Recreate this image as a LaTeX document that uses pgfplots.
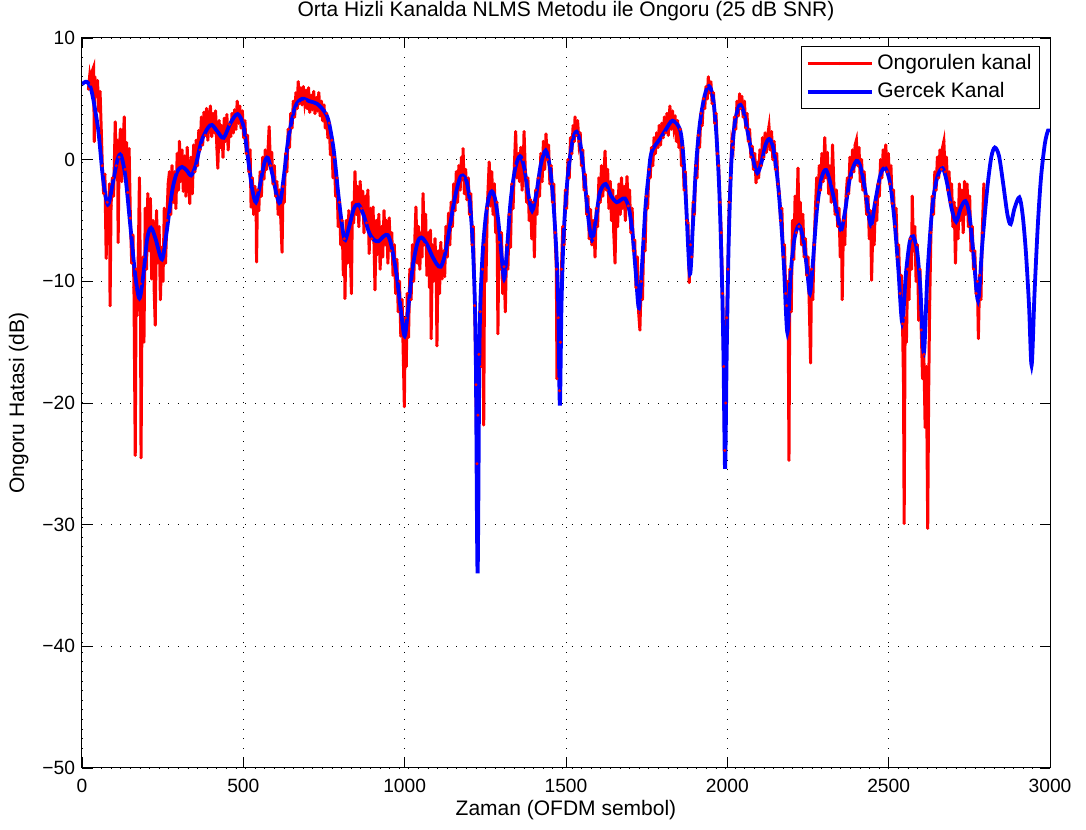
\documentclass[border=0pt]{standalone}
\usepackage{fontspec}
\setmainfont{Liberation Sans}
\usepackage{pgfplots}
\pgfplotsset{compat=1.18}

\newcommand{\figfont}{\fontsize{10.5}{12.5}\selectfont}
\newcommand{\tickfont}{\fontsize{9.6}{11}\selectfont}

\begin{document}
\begin{tikzpicture}
\begin{axis}[
  scale only axis,
  width=484pt, height=365pt,
  xmin=0, xmax=3000, ymin=-50, ymax=10,
  xtick={0,500,...,3000},
  ytick={-50,-40,...,10},
  yticklabels={−50,−40,−30,−20,−10,0,10},
  /pgf/number format/assume math mode=true,
  /pgf/number format/1000 sep={},
  tick align=inside,
  major tick length=5pt,
  tick style={black, line width=0.4pt},
  axis line style={black, line width=0.5pt},
  grid=major,
  grid style={black, line width=0.4pt, dash pattern=on 0.5pt off 4.3pt},
  ticklabel style={font=\tickfont},
  xticklabel style={yshift=-2pt},
  title={Orta Hizli Kanalda NLMS Metodu ile Ongoru (25 dB SNR)},
  title style={at={(axis description cs:0.5,1.0069)}, anchor=south, inner sep=0pt, font=\figfont},
  xlabel={Zaman (OFDM sembol)},
  xlabel style={at={(axis description cs:0.5,-0.0438)}, anchor=north, inner sep=0pt, font=\figfont},
  ylabel={Ongoru Hatasi (dB)},
  ylabel style={at={(axis description cs:-0.0548,0.5)}, anchor=south, inner sep=0pt, font=\figfont},
  legend style={at={(1,1)}, anchor=north east, xshift=-5pt, yshift=-4pt,
    draw=black, line width=0.5pt, font=\figfont, inner sep=2pt, row sep=1pt},
  legend cell align=left,
  legend image code/.code={\draw[mark repeat=2,mark phase=2,#1] plot coordinates {(0pt,0pt) (16pt,0pt) (32pt,0pt)};},
]

% estimated channel (NLMS output)
\addplot[red, line width=1.5pt, mark=*, mark size=0.6pt, mark options={solid, fill=red, draw=red, line width=0.3pt}] coordinates {
(20,5.8)(24,6.9)(28,6.2)(32,7.3)(36,7.6)(38,1.5)(40,6.8)(44,5.2)(48,6.5)(52,4.0)(56,5.6)(60,2.2)
(63,-0.5)(67,-2.8)(71,-1.2)(75,-8.1)(78,-3.5)(82,-5.2)(85,-2.0)(87,-12.0)(90,-3.8)(94,-1.5)
(98,-3.0)(103,3.1)(106,-0.5)(110,1.6)(112,-6.8)(115,0.2)(119,2.5)(123,-1.8)(127,1.2)(131,3.5)(134,-0.8)(138,1.4)(142,-2.7)(146,0.9)(150,-4.8)
(154,-8.5)(158,-6.2)(161,-10.5)(165,-24.3)(168,-9.0)(171,-12.8)(175,-7.0)(178,-1.5)(181,-10.2)(183,-24.5)(186,-12.0)(189,-8.0)(192,-15.0)
(196,-4.0)(200,-9.0)(204,-2.8)(208,-7.5)(212,-3.2)(216,-9.8)(220,-5.0)(224,-11.0)(227,-13.6)(231,-4.2)(235,-8.5)(239,-5.5)(243,-11.5)(247,-7.2)(251,-10.0)(255,-4.0)(259,-8.5)
(263,-5.0)(267,-2.0)(271,-1.0)(275,-4.5)(279,-0.5)(283,-3.5)(287,-1.0)(291,-4.0)(295,0.5)
(299,-2.5)(302,1.5)(306,-1.8)(310,0.8)(314,-2.6)(318,0.3)(322,-3.0)(326,1.0)(330,-1.5)(334,-3.6)(338,0.2)(342,-2.8)(346,1.2)(350,-1.0)(354,1.6)(358,-0.5)
(362,2.4)(366,0.8)(370,3.5)(374,1.2)(378,3.9)(382,2.0)(386,4.2)(390,1.6)(394,3.3)(398,4.4)(402,1.9)(406,3.8)(410,2.2)(414,4.0)(418,1.0)
(421,-0.7)(425,3.2)(429,1.0)(433,2.8)(437,0.2)(441,3.4)(445,1.5)(449,3.7)(453,0.8)(457,2.9)(461,1.9)(465,3.8)(469,2.2)
(473,4.1)(477,2.5)(481,4.8)(485,3.0)(489,4.4)(493,2.6)(497,4.0)(501,1.8)
(505,3.2)(509,0.5)(513,2.0)(517,-1.0)(521,0.8)(524,-3.9)(528,-1.5)(532,-4.5)(536,-2.2)(540,-5.0)(541,-8.4)(544,-2.5)
(548,-4.2)(552,-1.0)(556,-3.0)(560,0.2)(564,-1.6)(568,0.8)(572,-0.8)(576,0.5)(580,2.7)(584,-0.5)(588,0.6)(592,-2.0)(596,-0.5)(600,-3.0)
(604,-1.8)(608,-4.5)(612,-2.5)(616,-4.8)(620,-7.6)(623,-2.2)(627,-3.5)(631,0.5)(635,-1.0)(639,2.5)
(643,1.0)(647,3.8)(651,2.6)(655,4.8)(659,3.5)(663,5.5)(667,4.2)(670,6.4)(674,4.6)(678,5.9)(682,4.5)(686,6.0)(690,4.8)(694,5.7)(698,4.2)
(702,5.9)(706,3.9)(710,5.3)(714,4.1)(718,5.6)(722,3.8)(726,5.1)(730,4.0)(734,5.5)(738,3.6)(742,4.8)(746,3.2)(750,4.5)(754,2.6)(758,3.8)
(762,1.8)(766,3.0)(770,0.4)(774,1.6)(778,-1.5)(782,0.2)(786,-3.0)(790,-1.5)(794,-5.5)(798,-3.5)(802,-7.0)(806,-5.0)(810,-9.5)(813,-6.5)(815,-11.4)(819,-5.0)(823,-8.5)(827,-4.2)(831,-7.0)(835,-11.0)(838,-3.5)
(842,-5.2)(846,-1.0)(850,-4.5)(854,-2.2)(858,-5.5)(862,-1.8)(866,-4.0)(870,-2.6)(874,-6.0)(878,-3.0)(882,-5.2)(886,-2.5)(890,-7.7)(894,-4.0)(898,-6.5)
(902,-3.9)(906,-8.0)(908,-10.7)(912,-5.0)(916,-7.8)(920,-4.5)(924,-9.0)(928,-5.5)(932,-8.0)(936,-4.2)(940,-7.0)(944,-5.0)(948,-8.5)(952,-4.8)(956,-7.5)(960,-6.0)
(964,-9.5)(968,-7.0)(972,-11.0)(976,-8.2)(980,-12.5)(984,-10.0)(988,-14.5)(992,-11.5)(996,-16.5)(999,-20.3)(1002,-13.0)(1005,-17.0)
(1008,-11.0)(1012,-14.6)(1016,-9.0)(1020,-11.5)(1024,-7.0)(1028,-10.0)(1032,-6.2)(1035,-3.9)(1039,-8.5)(1043,-5.5)(1047,-9.0)(1051,-6.0)(1054,-8.0)(1057,-2.8)(1061,-7.0)
(1065,-4.5)(1069,-9.5)(1073,-6.0)(1077,-10.5)(1080,-5.8)(1082,-14.7)(1086,-7.0)(1090,-10.0)(1094,-6.5)(1098,-9.5)(1100,-15.3)(1104,-7.5)(1108,-11.0)(1112,-6.8)(1116,-9.8)(1120,-7.5)
(1124,-9.6)(1128,-5.5)(1132,-8.0)(1136,-4.4)(1140,-7.0)(1144,-3.5)(1148,-5.5)(1152,-2.0)(1156,-4.2)(1160,-1.0)(1164,-3.5)(1168,-0.5)(1172,-2.5)(1176,0.2)(1180,-1.5)(1181,0.9)(1185,-2.8)(1189,-0.8)(1193,-3.3)(1197,-1.5)
(1201,-4.5)(1205,-2.8)(1209,-7.0)(1213,-5.5)(1217,-12.0)(1221,-18.5)(1224,-25.0)(1227,-21.0)(1230,-16.0)(1234,-12.5)(1238,-17.0)(1241,-9.0)(1245,-21.8)(1248,-7.0)(1252,-10.0)
(1256,-4.0)(1260,-1.5)(1262,-0.2)(1266,-3.8)(1270,-1.0)(1274,-4.5)(1278,-2.0)(1282,-6.0)(1286,-3.5)(1289,-14.3)(1292,-6.8)(1296,-9.0)(1300,-6.0)
(1304,-11.0)(1308,-8.8)(1312,-12.5)(1316,-7.0)(1320,-9.0)
(1324,-4.5)(1328,-7.2)(1332,-2.0)(1336,-4.0)(1340,-0.5)(1344,2.3)(1348,-1.5)(1352,0.5)(1356,-1.8)(1360,1.0)(1364,-2.5)(1368,0.0)(1370,2.3)(1374,-1.0)(1378,-3.5)
(1382,-1.5)(1386,-5.0)(1390,-3.3)(1394,-6.5)(1398,-3.5)(1402,-8.0)(1406,-2.5)(1410,-4.5)(1414,-1.5)(1418,-3.0)
(1422,0.5)(1426,-1.8)(1430,1.5)(1434,-0.8)(1438,2.1)(1442,0.0)(1446,1.2)(1450,-2.0)(1454,-0.5)(1458,-3.5)(1462,-2.0)(1466,-6.0)(1470,-9.0)(1472,-18.0)(1476,-13.0)(1480,-19.0)(1483,-15.0)(1486,-9.0)
(1490,-5.5)(1494,-7.0)(1498,-2.5)(1502,-4.0)(1506,0.0)(1510,-1.5)(1514,1.8)(1518,0.5)(1522,2.8)(1526,1.5)(1528,3.5)(1532,2.0)(1536,3.2)(1540,1.5)
(1544,2.2)(1548,-0.5)(1552,0.8)(1556,-2.5)(1560,-1.2)(1564,-4.5)(1568,-3.0)(1572,-6.5)(1576,-4.1)(1580,-7.0)(1584,-5.0)(1588,-6.5)(1590,-8.0)(1594,-4.0)(1598,-5.5)
(1602,-1.5)(1606,-3.5)(1610,-0.5)(1614,-3.0)(1618,-1.0)(1621,0.7)(1625,-2.5)(1629,-0.8)(1633,-4.0)(1637,-1.8)(1641,-5.0)(1645,-2.5)(1648,-6.0)(1652,-8.5)(1656,-3.0)(1660,-5.5)(1664,-2.0)(1668,-4.5)(1672,-1.5)(1676,-4.0)(1680,-2.2)(1684,-5.0)(1689,-1.4)(1693,-3.8)(1697,-2.5)
(1701,-6.0)(1705,-4.0)(1709,-7.5)(1713,-6.6)(1717,-10.5)(1721,-8.0)(1725,-12.5)(1729,-14.0)(1733,-10.0)(1737,-11.5)(1741,-6.5)(1745,-7.5)(1749,-3.0)(1753,-4.0)(1757,-0.8)
(1761,-1.5)(1765,1.0)(1769,-0.5)(1773,1.8)(1777,0.5)(1781,2.2)(1785,1.0)(1789,2.8)(1793,1.2)(1797,3.0)(1801,1.8)(1805,3.5)(1809,2.2)(1813,3.8)(1817,2.0)(1822,4.4)(1826,2.5)(1830,4.0)(1834,2.8)(1838,3.6)(1842,1.5)(1846,3.2)(1850,1.0)(1854,2.5)(1858,-0.5)(1862,1.0)(1866,-2.5)(1870,-1.0)(1874,-5.0)(1878,-5.2)(1882,-10.1)(1886,-7.0)(1890,-8.0)
(1894,-3.5)(1898,-4.5)(1902,-0.5)(1906,-1.5)(1910,2.0)(1914,1.0)(1918,3.8)(1922,2.8)(1926,5.0)(1930,4.2)(1934,6.0)(1938,5.0)(1941,6.8)(1945,5.5)(1949,6.4)(1953,4.6)(1957,5.5)(1961,3.0)(1965,3.8)(1969,0.5)(1973,-0.5)(1977,-3.5)(1981,-6.0)(1985,-11.0)(1989,-17.0)(1992,-23.9)(1995,-20.0)(1998,-13.0)(2002,-9.0)
(2006,-3.5)(2010,-1.5)(2014,1.5)(2018,1.0)(2022,3.5)(2026,2.5)(2030,4.8)(2034,3.6)(2038,5.4)(2041,4.2)(2045,5.2)(2049,3.5)(2053,4.8)(2057,2.6)(2061,3.8)(2065,1.5)(2069,2.5)(2073,0.2)(2077,1.1)(2081,-0.8)(2085,0.5)(2089,-1.9)(2093,-0.2)(2097,-1.5)(2101,0.8)
(2105,-0.5)(2109,1.8)(2113,0.2)(2117,2.2)(2121,0.6)(2125,2.0)(2129,2.7)(2133,0.8)(2137,2.3)(2141,0.0)(2145,1.5)(2149,-0.8)(2153,0.5)(2157,-2.0)
(2161,-2.8)(2165,-5.0)(2169,-4.0)(2173,-8.0)(2177,-7.0)(2181,-11.0)(2184,-12.0)(2188,-10.0)(2191,-24.7)(2194,-9.0)(2198,-12.5)
(2202,-5.0)(2206,-8.2)(2210,-3.0)(2214,-6.0)(2219,-0.7)(2222,-5.5)(2226,-3.5)(2230,-7.0)(2234,-4.5)(2238,-8.0)
(2242,-6.5)(2246,-9.5)(2250,-8.0)(2254,-12.0)(2258,-16.7)(2261,-9.0)(2265,-11.5)(2269,-7.0)
(2273,-4.0)(2277,-1.5)(2281,-3.5)(2285,-0.5)(2289,-2.5)(2293,0.5)(2297,-1.8)(2302,1.8)(2306,-1.5)(2310,0.6)(2314,-2.8)(2318,-0.5)(2322,-3.5)(2326,1.2)(2330,-2.0)(2334,-4.5)(2338,-2.5)
(2342,-5.5)(2346,-4.0)(2350,-8.0)(2354,-6.0)(2356,-11.5)(2360,-5.0)(2364,-7.0)(2368,-3.0)
(2372,-1.5)(2376,-2.8)(2380,0.2)(2384,-1.5)(2388,0.8)(2392,-1.0)(2396,1.2)(2400,1.6)(2404,-0.5)(2408,1.0)(2412,-1.8)(2416,0.0)(2420,-2.5)(2424,-1.0)(2428,-3.0)
(2432,-4.5)(2436,-3.0)(2440,-6.5)(2444,-4.2)(2447,-9.9)(2451,-5.5)(2455,-7.0)(2459,-3.5)(2463,-5.0)(2467,-2.0)
(2471,-3.0)(2475,0.0)(2479,-1.5)(2483,0.8)(2487,-0.5)(2491,1.2)(2495,-1.0)(2499,0.5)(2503,-2.0)(2507,-0.5)(2511,-3.6)
(2515,-2.5)(2519,-5.5)(2523,-4.0)(2527,-8.0)(2531,-7.0)(2535,-11.0)(2539,-9.5)(2543,-13.5)(2546,-18.4)(2548,-29.9)(2551,-13.0)(2555,-15.0)
(2559,-9.0)(2563,-11.5)(2567,-6.5)(2571,-9.0)(2573,-3.0)(2577,-7.5)(2581,-5.5)(2585,-10.0)(2589,-7.0)(2593,-13.2)(2597,-9.0)
(2601,-14.0)(2605,-18.0)(2609,-16.0)(2613,-22.0)(2617,-17.0)(2621,-30.3)(2624,-19.0)(2627,-12.0)
(2631,-6.0)(2635,-3.0)(2639,-4.5)(2643,-1.0)(2647,-2.5)(2651,0.2)(2655,-1.5)(2659,0.8)(2663,-0.8)(2667,1.0)(2671,1.5)(2675,-1.0)(2679,0.2)(2683,-2.5)(2687,-1.0)(2691,-3.5)
(2695,-2.0)(2699,-5.5)(2703,-3.5)(2707,-8.5)(2711,-4.0)(2715,-6.5)(2719,-2.0)(2723,-5.0)(2727,-2.5)(2731,-6.0)
(2735,-1.8)(2739,-4.5)(2743,-2.0)(2747,-5.5)(2751,-3.0)(2755,-7.5)(2759,-5.5)(2763,-9.0)(2767,-7.5)(2771,-11.0)(2775,-10.0)(2778,-14.7)(2782,-9.5)(2786,-11.5)(2790,-6.0)(2795,-2.0)
};
\addlegendentry{Ongorulen kanal}

% true channel
\addplot[blue, line width=1.9pt, smooth, tension=0.5] coordinates {
(0,6.2)(15,6.4)(30,5.6)(50,2.5)(65,-1.5)(80,-3.7)(95,-2.0)(110,0.0)(121,0.35)(135,-1.5)(150,-5.5)(165,-9.5)(178,-11.4)(190,-9.5)(202,-6.5)(214,-5.6)(228,-6.5)(248,-8.2)(262,-6.0)(280,-2.5)(295,-1.0)(310,-0.6)(325,-0.9)(338,-1.3)(352,-0.5)(370,1.5)(390,2.6)(403,2.85)(420,2.3)(439,1.8)(460,3.0)(482,3.75)(500,2.8)(515,0.0)(528,-2.5)(539,-3.5)(550,-2.3)(565,-0.3)(576,0.14)(590,-1.2)(604,-3.0)(614,-3.5)(625,-1.5)(640,1.8)(660,4.3)(682,5.0)(705,4.8)(728,4.6)(750,4.0)(764,3.2)(780,0.8)(795,-3.0)(808,-5.8)(816,-6.6)(828,-5.5)(843,-4.0)(857,-3.7)(872,-4.5)(890,-6.0)(905,-6.6)(919,-6.7)(935,-6.3)(948,-6.2)(960,-7.2)(975,-9.5)(990,-12.8)(1000,-14.5)(1010,-12.5)(1025,-8.8)(1040,-6.8)(1052,-6.4)(1068,-6.9)(1085,-7.9)(1100,-8.6)(1112,-8.8)(1125,-7.8)(1140,-5.5)(1155,-3.2)(1170,-1.6)(1180,-1.3)(1192,-1.8)(1202,-3.5)(1212,-7.5)(1220,-15)(1226,-34)(1232,-15)(1240,-8.5)(1250,-5.0)(1260,-3.2)(1270,-2.6)(1280,-3.2)(1290,-5.0)(1300,-7.8)(1308,-9.8)(1316,-7.8)(1328,-3.5)(1342,-0.8)(1357,0.3)(1370,-0.6)(1383,-2.8)(1395,-4.2)(1408,-2.8)(1422,-0.4)(1437,0.75)(1450,-0.6)(1460,-3.2)(1470,-7.5)(1476,-12)(1481,-20.2)(1486,-12)(1493,-6)(1505,-1.5)(1520,1.5)(1533,2.3)(1545,1.2)(1558,-1.8)(1570,-5.0)(1581,-6.6)(1592,-5.0)(1605,-2.7)(1623,-2.0)(1640,-3.0)(1657,-3.5)(1670,-3.3)(1683,-3.2)(1695,-4.0)(1706,-6.0)(1716,-9.2)(1726,-12.2)(1736,-8.5)(1746,-4.0)(1755,-1.5)(1765,0.6)(1791,1.7)(1810,2.5)(1830,3.2)(1853,2.5)(1863,0.5)(1872,-3.5)(1884,-9.4)(1893,-5.5)(1903,-0.5)(1915,3.0)(1930,5.3)(1943,6.05)(1955,5.2)(1965,2.5)(1975,-2.5)(1983,-9.5)(1988,-16)(1993,-25.4)(1998,-16)(2004,-7)(2012,-0.5)(2022,2.8)(2033,4.2)(2041,4.5)(2052,3.8)(2065,2.0)(2080,0.0)(2093,-1.1)(2106,-0.2)(2118,1.2)(2130,1.7)(2142,1.0)(2155,-1.5)(2165,-4.5)(2175,-8.5)(2186,-14.2)(2196,-9.5)(2208,-6.5)(2222,-5.4)(2235,-6.5)(2247,-9.0)(2256,-11.0)(2265,-8.5)(2278,-4.0)(2292,-1.5)(2306,-0.85)(2320,-2.0)(2337,-4.0)(2352,-5.8)(2365,-4.2)(2380,-1.5)(2400,-0.1)(2415,-0.8)(2430,-3.0)(2445,-5.4)(2458,-3.5)(2475,-1.2)(2490,-0.7)(2505,-2.0)(2518,-5.0)(2530,-9.0)(2542,-13.4)(2553,-9.5)(2565,-6.8)(2576,-6.3)(2588,-7.5)(2598,-10.5)(2609,-15.9)(2620,-9.5)(2635,-4.0)(2650,-1.5)(2667,-0.7)(2680,-1.8)(2695,-4.0)(2709,-5.1)(2723,-4.0)(2738,-3.4)(2750,-4.5)(2762,-7.5)(2777,-11.6)(2790,-7.0)(2805,-2.5)(2818,0.2)(2829,1.0)(2842,0.3)(2855,-2.0)(2868,-4.5)(2878,-5.3)(2890,-4.0)(2905,-3.1)(2915,-4.5)(2925,-7.5)(2935,-12)(2943,-16.9)(2952,-11.0)(2962,-5.5)(2972,-1.5)(2984,1.3)(2994,2.4)(3000,2.3)
};
\addlegendentry{Gercek Kanal}
\end{axis}
\pgfresetboundingbox
\path[use as bounding box] ([shift={(-41pt,-31pt)}]current axis.south west) rectangle ([shift={(18pt,19pt)}]current axis.north east);
\end{tikzpicture}
\end{document}
